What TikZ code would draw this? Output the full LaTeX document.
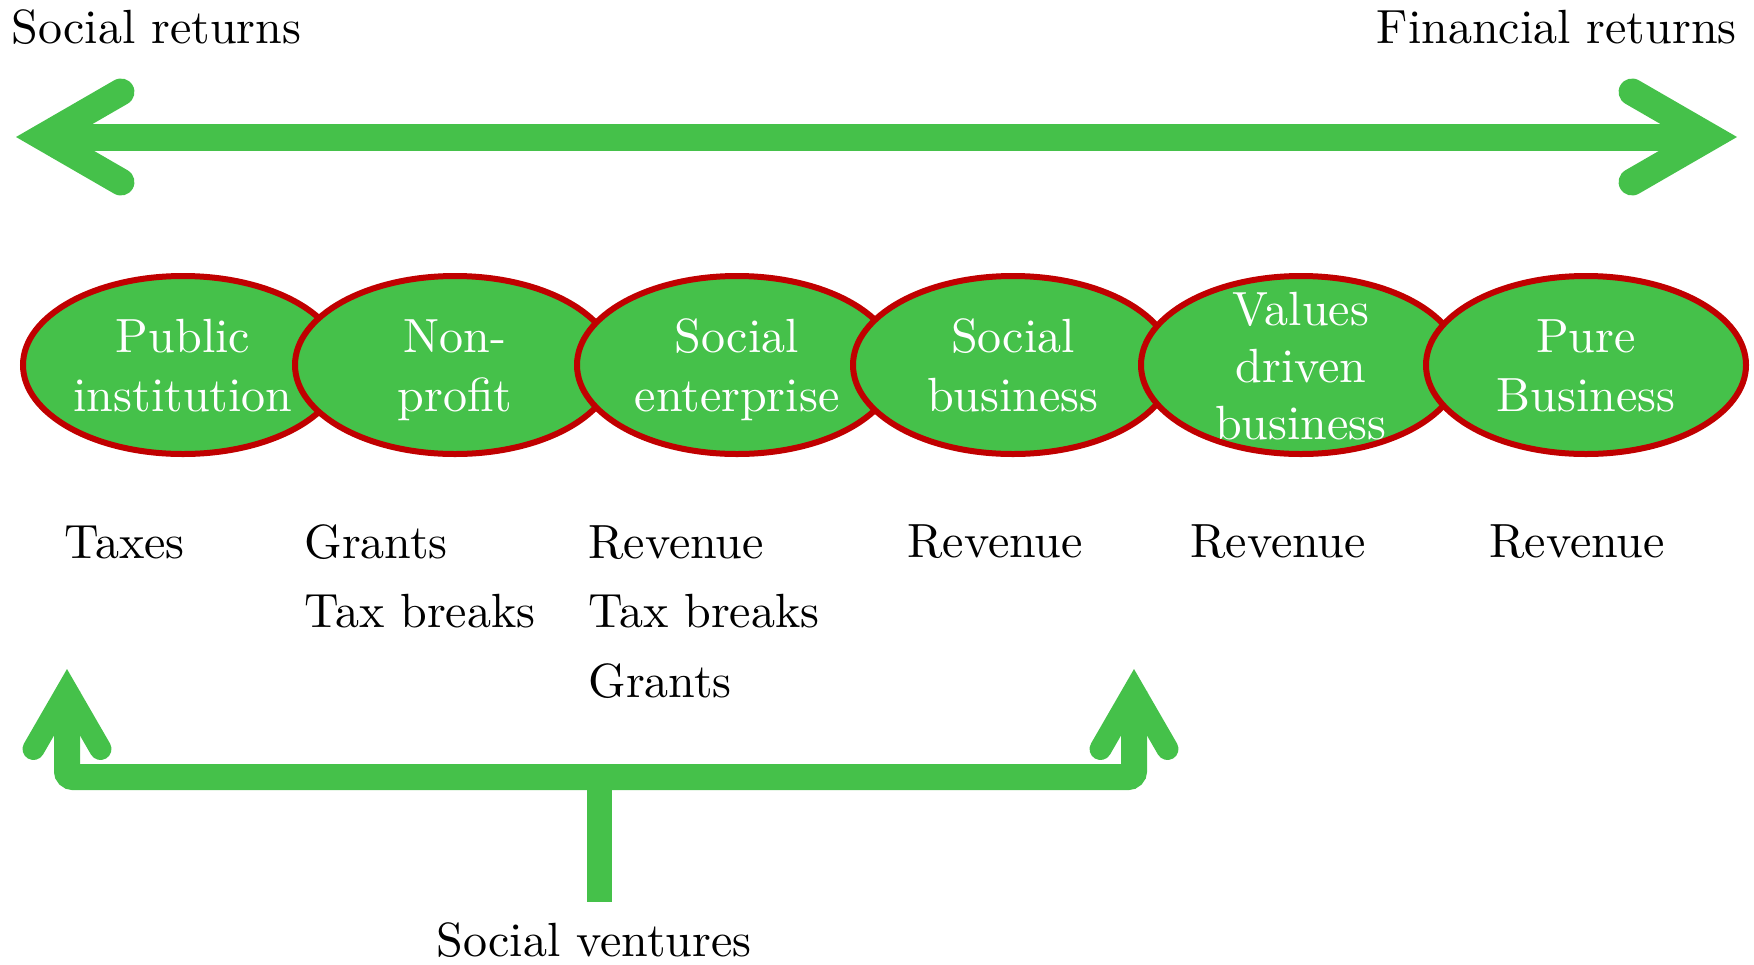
\documentclass[tikz,border=0pt]{standalone}
\usepackage{fontspec}
\setmainfont{lmroman10-regular.otf}
\usepackage{tikz}
\usetikzlibrary{positioning}
\usetikzlibrary{shapes.geometric}
\usetikzlibrary{calc}
\definecolor{sgreen}{RGB}{69,193,74}
\definecolor{sred}{RGB}{192,0,0}
\tikzset{
   org/.style = {%
    shape=ellipse,
    draw=sred,
    line width=3pt,
    fill=sgreen,
    inner sep=0pt,
    minimum width=160pt,
    minimum height=89pt},
   orgtext/.style = {%
    text=white,
    align=center,
    execute at begin node=\vphantom{l},
    execute at end node=\vphantom{p},
    font=\fontsize{24}{29.5}\selectfont},
   lbl/.style = {%
    inner sep=0pt,
    font=\fontsize{24}{29}\selectfont},
   shaft/.style = {%
    draw=sgreen,
    line width=13.5pt},
   barb/.style = {%
    draw=sgreen,
    line width=13.5pt,
    line cap=round,
    line join=miter},
   bracket/.style = {%
    draw=sgreen,
    line width=13pt,
    rounded corners=3pt},
   smallbarb/.style = {%
    barb,
    line width=11pt},
    }

\begin{document}
\begin{tikzpicture}[x=0.5pt,y=-0.5pt]
    \useasboundingbox (0,0) rectangle (1754,964);
    % returns axis
    \node[lbl, anchor=base west] (social) at (11,43) {Social returns};
    \node[lbl, anchor=base east] (financial) at (1737,43) {Financial returns};
    \coordinate (lv) at (43,137);
    \coordinate (rv) at (1710,137);
    \draw[shaft] (lv) -- (rv);
    \draw[barb] ($(lv)+(30:90)$) -- (lv) -- ($(lv)+(-30:90)$);
    \draw[barb] ($(rv)+(150:90)$) -- (rv) -- ($(rv)+(210:90)$);
    % organisations
    \foreach \x/\n/\t in {183/pub/{Public\\institution},
                          455/nonprofit/{Non-\\profit},
                          737/socent/{Social\\enterprise},
                          1013/socbus/{Social\\business},
                          1301/valdrv/{Values\\[-1pt]driven\\[-1pt]business},
                          1586/pure/{Pure\\Business}}{
        \node[org] (\n) at (\x,365) {};
        \node[orgtext] at ($(\n)+(0,5)$) {\t};
    }
    % funding
    \foreach \x/\y/\t [count=\i] in {64/558/Taxes, 304/558/Grants, 304/627/Tax breaks,
                                      588/558/Revenue, 588/627/Tax breaks, 588/697/Grants,
                                      907/557/Revenue, 1190/557/Revenue, 1489/557/Revenue}
        \node[lbl, anchor=base west] (fund\i) at (\x,\y) {\t};
    % social ventures
    \coordinate (lb) at (67,691);
    \coordinate (rb) at (1134,691);
    \coordinate (fork) at (599,777);
    \coordinate (stemend) at (599,902);
    \node[lbl, anchor=base] (ventures) at (594,956) {Social ventures};
    \draw[bracket] (lb) -- (lb |- fork) -- (rb |- fork) -- (rb);
    \draw[shaft, line width=12.5pt] (fork) -- (stemend);
    \draw[smallbarb] ($(lb)+(60:67)$) -- (lb) -- ($(lb)+(120:67)$);
    \draw[smallbarb] ($(rb)+(60:67)$) -- (rb) -- ($(rb)+(120:67)$);
\end{tikzpicture}
\end{document}
